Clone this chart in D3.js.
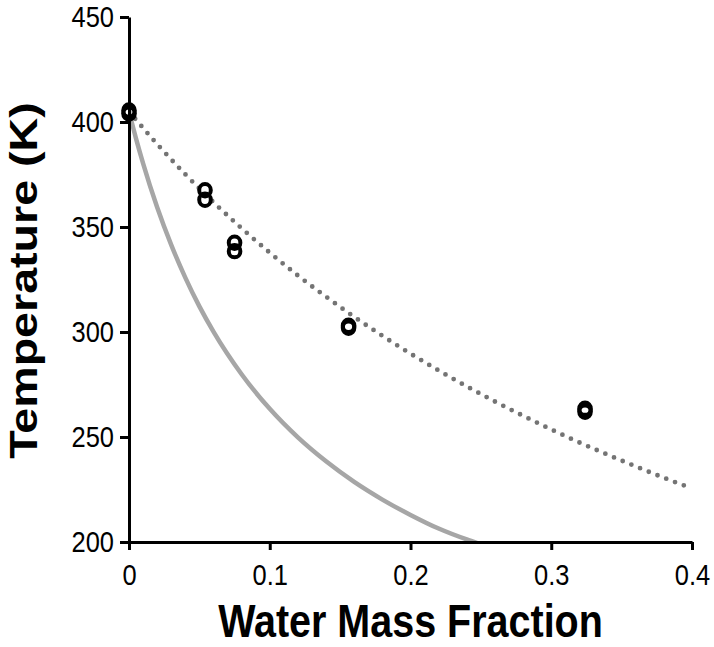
<!DOCTYPE html>
<html>
<head>
<meta charset="utf-8">
<script src="https://cdn.jsdelivr.net/npm/d3@7"></script>
<style>
  html, body { margin: 0; padding: 0; background: #fff; }
  svg { display: block; }
</style>
</head>
<body>
<svg id="chart" width="714" height="647"></svg>
<script>
// ---- data ----
const xTicks = [0, 0.1, 0.2, 0.3, 0.4];
const yTicks = [200, 250, 300, 350, 400, 450];
const xTickLabels = ["0", "0.1", "0.2", "0.3", "0.4"];
const yTickLabels = ["200", "250", "300", "350", "400", "450"];

// measured points (open circles)
const pointX = [0, 0, 0.054, 0.054, 0.075, 0.075, 0.156, 0.156, 0.324, 0.324];
const pointT = [405.5, 404, 367.5, 363, 342.5, 338.5, 303, 302, 263.5, 262];

// dotted model curve
const dotX = [0, 0.02, 0.04, 0.06, 0.08, 0.10, 0.12, 0.14, 0.16, 0.18, 0.20, 0.22, 0.24, 0.26, 0.28, 0.30, 0.32, 0.34, 0.36, 0.38, 0.40];
const dotT = [405, 389.5, 375.1, 361.8, 349.4, 337.8, 326.9, 316.8, 307.2, 298.2, 289.7, 281.7, 274.1, 266.9, 260.1, 253.6, 247.4, 241.6, 236.0, 230.6, 225.5];

// solid grey model curve
const solidX = [0, 0.005, 0.01, 0.02, 0.03, 0.04, 0.05, 0.06, 0.08, 0.10, 0.12, 0.14, 0.16, 0.18, 0.20, 0.22, 0.24, 0.2475];
const solidT = [405, 392.1, 380.3, 359.4, 341.5, 325.9, 312.2, 300.2, 279.9, 263.4, 249.8, 238.4, 228.6, 220.2, 212.9, 206.4, 201.2, 199.5];

const xTitle = "Water Mass Fraction";
const yTitle = "Temperature (K)";

// ---- layout ----
const svg = d3.select("#chart");
const mLeft = 129, mRight = 692, mTop = 17, mBottom = 542;
const stretch = 1.18; // glyphs in the reference are taller than normal

const x = d3.scaleLinear().domain([0, 0.4]).range([mLeft, mRight]);
const y = d3.scaleLinear().domain([200, 450]).range([mBottom, mTop]);

svg.append("defs").append("clipPath").attr("id", "plotclip")
  .append("rect").attr("x", mLeft).attr("y", mTop - 10).attr("width", mRight - mLeft + 5).attr("height", mBottom - mTop + 10);

const plot = svg.append("g").attr("clip-path", "url(#plotclip)");

const line = d3.line().x(d => x(d[0])).y(d => y(d[1])).curve(d3.curveMonotoneX);

plot.append("path")
  .datum(solidX.map((v, i) => [v, solidT[i]]))
  .attr("d", line)
  .attr("fill", "none")
  .attr("stroke", "#a6a6a6")
  .attr("stroke-width", 4.5);

plot.append("path")
  .datum(dotX.map((v, i) => [v, dotT[i]]))
  .attr("d", line)
  .attr("fill", "none")
  .attr("stroke", "#747474")
  .attr("stroke-width", 4.8)
  .attr("stroke-linecap", "round")
  .attr("stroke-dasharray", "0 9.4");

// axes
const fontFam = "'Liberation Sans', Arial, sans-serif";
const tickFont = 25.5;

const xAxis = d3.axisBottom(x).tickValues(xTicks)
  .tickFormat((d, i) => xTickLabels[i]).tickSizeInner(8).tickSizeOuter(0).tickPadding(12);
const yAxis = d3.axisLeft(y).tickValues(yTicks)
  .tickFormat((d, i) => yTickLabels[i]).tickSizeInner(9).tickSizeOuter(0).tickPadding(6);

const gx = svg.append("g").attr("transform", `translate(0,${mBottom})`).call(xAxis);
const gy = svg.append("g").attr("transform", `translate(${mLeft},0)`).call(yAxis);

[gx, gy].forEach(g => {
  g.select(".domain").attr("stroke", "#000").attr("stroke-width", 3);
  g.selectAll(".tick line").attr("stroke", "#000").attr("stroke-width", 3);
  g.selectAll(".tick text")
    .attr("fill", "#000")
    .style("font-family", fontFam)
    .style("font-size", tickFont + "px")
    .attr("transform", `scale(1,${stretch})`);
});
// x labels: keep their top edge at the same spot after stretching
gx.selectAll(".tick text").attr("y", (8 + 12) / stretch + 1);

// points
svg.append("g").selectAll("ellipse")
  .data(pointX.map((v, i) => [v, pointT[i]]))
  .join("ellipse")
  .attr("cx", d => x(d[0]))
  .attr("cy", d => y(d[1]))
  .attr("rx", 5.8)
  .attr("ry", 6.2)
  .attr("fill", "none")
  .attr("stroke", "#000")
  .attr("stroke-width", 4);

// titles
svg.append("text")
  .attr("transform", `translate(${(mLeft + mRight) / 2},637) scale(1,${stretch})`)
  .attr("text-anchor", "middle")
  .style("font-family", fontFam)
  .style("font-weight", "bold")
  .style("font-size", "39.5px")
  .text(xTitle);

svg.append("text")
  .attr("transform", `translate(37,${(mTop + mBottom) / 2 + 1}) rotate(-90) scale(${stretch},1)`)
  .attr("text-anchor", "middle")
  .style("font-family", fontFam)
  .style("font-weight", "bold")
  .style("font-size", "39.5px")
  .text(yTitle);
</script>
</body>
</html>
